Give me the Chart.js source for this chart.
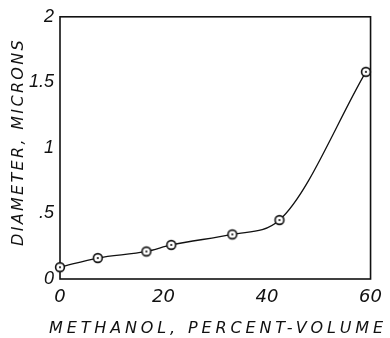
<!DOCTYPE html>
<html>
<head>
<meta charset="utf-8">
<script src="https://cdn.jsdelivr.net/npm/chart.js@4/dist/chart.umd.min.js"></script>
<style>
  html, body { margin: 0; padding: 0; background: #fff; }
  canvas { display: block; }
</style>
</head>
<body>
<canvas id="diameter-chart" width="390" height="338"></canvas>
<script>
// data
var methanolPct = [0, 7.3, 16.7, 21.5, 33.3, 42.4, 59.1];
var diameterMicrons = [0.09, 0.16, 0.21, 0.26, 0.34, 0.45, 1.58];
var xTickValues = [0, 20, 40, 60];
var yTickValues = [0, 0.5, 1, 1.5, 2];
var yTickLabels = ['0', '.5', '1', '1.5', '2'];
var xTitle = 'METHANOL, PERCENT-VOLUME';
var yTitle = 'DIAMETER, MICRONS';

var ink = '#111';
var letterFont = 'italic 16px "DejaVu Sans"';

// open circle with a dot in the middle
function makeMarker() {
    var c = document.createElement('canvas');
    c.width = 14;
    c.height = 14;
    var g = c.getContext('2d');
    g.strokeStyle = ink;
    g.lineWidth = 1.6;
    g.beginPath();
    g.arc(7, 7, 4.4, 0, Math.PI * 2);
    g.fillStyle = '#fff';
    g.fill();
    g.stroke();
    g.beginPath();
    g.arc(7, 7, 1.1, 0, Math.PI * 2);
    g.fillStyle = ink;
    g.fill();
    return c;
}

// spread the letters of a title so it fills a given length
function drawSpaced(ctx, text, width) {
    ctx.letterSpacing = '0px';
    var plain = ctx.measureText(text).width;
    ctx.letterSpacing = ((width - plain) / text.length) + 'px';
    ctx.fillText(text, 0, 0);
}

// box round the plot area + lettering for the axis titles
var framePlugin = {
    id: 'frame',
    beforeDatasetsDraw: function(chart) {
        var a = chart.chartArea;
        var ctx = chart.ctx;
        ctx.save();
        ctx.strokeStyle = ink;
        ctx.lineWidth = 1.6;
        ctx.strokeRect(a.left, a.top, a.right - a.left, a.bottom - a.top);
        ctx.restore();
    },
    afterDraw: function(chart) {
        var ctx = chart.ctx;
        ctx.save();
        ctx.fillStyle = ink;
        ctx.font = letterFont;
        ctx.textAlign = 'center';
        ctx.textBaseline = 'middle';
        ctx.save();
        ctx.translate(218, 329);
        drawSpaced(ctx, xTitle, 338);
        ctx.restore();
        ctx.translate(19, 142);
        ctx.rotate(-Math.PI / 2);
        drawSpaced(ctx, yTitle, 208);
        ctx.restore();
    }
};

var diameterChart;
function loadDiameterChart() {
    var context = document.getElementById('diameter-chart').getContext('2d');
    diameterChart = new Chart(context, {
        type: 'line',
        data: {
            datasets: [{
                data: methanolPct.map(function(x, i) { return {x: x, y: diameterMicrons[i]}; }),
                borderColor: ink,
                borderWidth: 1.3,
                cubicInterpolationMode: 'monotone',
                pointStyle: makeMarker(),
                pointRadius: 5,
                clip: false,
                fill: false
            }]
        },
        plugins: [framePlugin],
        options: {
            responsive: false,
            animation: false,
            events: [],
            layout: { padding: { left: 0, top: 16, right: 9, bottom: 0 } },
            plugins: {
                legend: { display: false },
                tooltip: { enabled: false }
            },
            scales: {
                x: {
                    type: 'linear',
                    min: 0,
                    max: 60,
                    grid: { display: false, drawTicks: false },
                    border: { display: false },
                    afterFit: function(scale) { scale.height = 59; },
                    afterBuildTicks: function(scale) {
                        scale.ticks = xTickValues.map(function(v) { return {value: v}; });
                    },
                    ticks: {
                        color: ink,
                        padding: 8,
                        maxRotation: 0,
                        font: { family: 'DejaVu Sans', style: 'italic', size: 18 }
                    }
                },
                y: {
                    min: 0,
                    max: 2,
                    grid: { display: false, drawTicks: false },
                    border: { display: false },
                    afterFit: function(scale) { scale.width = 60; },
                    afterBuildTicks: function(scale) {
                        scale.ticks = yTickValues.map(function(v) { return {value: v}; });
                    },
                    ticks: {
                        color: ink,
                        padding: 6,
                        font: { family: 'Liberation Sans', style: 'italic', size: 18 },
                        callback: function(value) {
                            return yTickLabels[yTickValues.indexOf(value)];
                        }
                    }
                }
            }
        }
    });
}

loadDiameterChart();
</script>
</body>
</html>
